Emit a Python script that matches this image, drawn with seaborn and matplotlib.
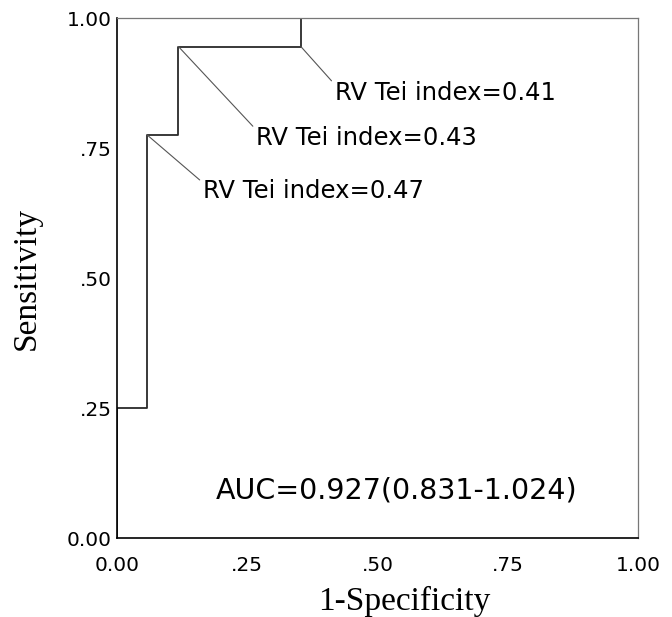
import numpy as np
import pandas as pd
import matplotlib
matplotlib.use("Agg")
import matplotlib.pyplot as plt
import seaborn as sns

# === Data ===
fpr = [0.0, 0.0, 0.058, 0.058, 0.118, 0.118, 0.353, 0.353, 1.0]   # 1-Specificity
tpr = [0.0, 0.25, 0.25, 0.775, 0.775, 0.945, 0.945, 1.0, 1.0]    # Sensitivity

# cut-off labels and the curve vertex (index into fpr/tpr) each one points at
cutoffs = [0.41, 0.43, 0.47]
cutoff_idx = [6, 5, 3]

auc_text = "AUC=0.927(0.831-1.024)"
tick_vals = [0.0, 0.25, 0.5, 0.75, 1.0]
tick_labels = ["0.00", ".25", ".50", ".75", "1.00"]

roc = pd.DataFrame({"fpr": fpr, "tpr": tpr})

# === Style ===
sns.set_style("white")
plt.rcParams["font.family"] = ["DejaVu Sans"]
plt.rcParams["text.color"] = "black"

fig = plt.figure(figsize=(6.72, 6.17), dpi=100)
ax = fig.add_axes([117 / 672, 79 / 617, 521 / 672, 520 / 617])

sns.lineplot(data=roc, x="fpr", y="tpr", sort=False, estimator=None,
             color="#2a2a2a", lw=1.3, ax=ax)

# leader lines + labels for the cut-offs
text_pos = [(0.418, 0.856), (0.267, 0.769), (0.165, 0.667)]
for val, idx, (tx, ty) in zip(cutoffs, cutoff_idx, text_pos):
    ax.annotate(f"RV Tei index={val:.2f}",
                xy=(fpr[idx], tpr[idx]), xytext=(tx, ty),
                ha="left", va="center", fontsize=17.5, color="black",
                arrowprops=dict(arrowstyle="-", color="#555555", lw=0.8,
                                shrinkA=0, shrinkB=0, relpos=(0, 0.85)))

ax.text(0.19, 0.092, auc_text, ha="left", va="center", fontsize=20.5,
        color="black")

# === Axes ===
ax.set_xlim(0, 1)
ax.set_ylim(0, 1)
ax.set_xticks(tick_vals)
ax.set_xticklabels(tick_labels)
ax.set_yticks(tick_vals)
ax.set_yticklabels(tick_labels)
ax.tick_params(axis="both", direction="out", length=3, width=1, colors="black",
               labelsize=14.5)
ax.tick_params(axis="x", pad=10)
ax.tick_params(axis="y", pad=1)

for side in ["left", "bottom"]:
    ax.spines[side].set_color("black")
    ax.spines[side].set_linewidth(1.2)
for side in ["top", "right"]:
    ax.spines[side].set_color("#777777")
    ax.spines[side].set_linewidth(0.9)

ax.set_xlabel("1-Specificity", family="Liberation Serif", fontsize=24,
              color="black")
ax.set_ylabel("Sensitivity", family="Liberation Serif", fontsize=24,
              color="black")
ax.xaxis.set_label_coords(0.551, -0.093)
ax.yaxis.set_label_coords(-0.145, 0.5)

fig.savefig("out.png", dpi=100)
